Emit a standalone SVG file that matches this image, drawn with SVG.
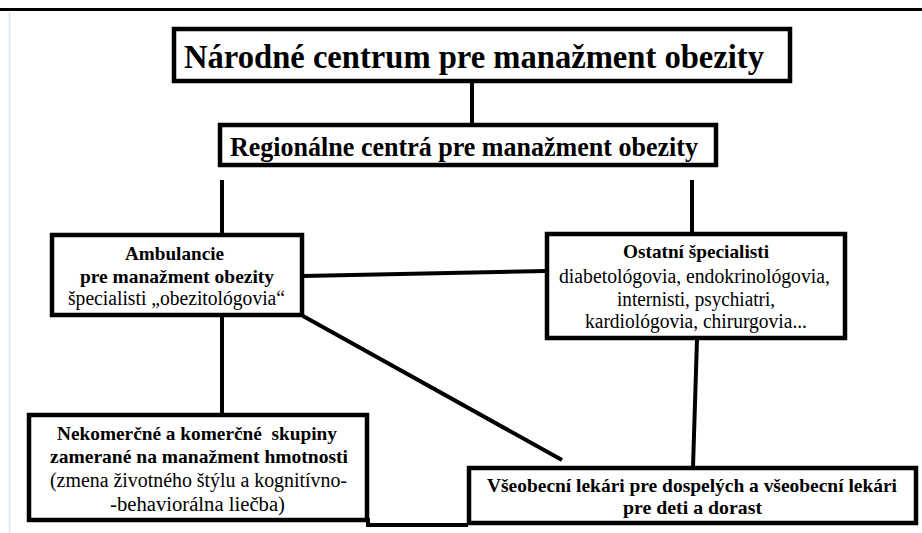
<svg xmlns="http://www.w3.org/2000/svg" width="922" height="533" viewBox="0 0 922 533">
<style>
.box{fill:#fff;stroke:#000;stroke-width:4.5}
.t{font-family:"Liberation Serif","Times New Roman",serif;fill:#000}
.b{font-weight:bold}
.s{font-size:19px}
.r{font-size:20px}
.c{stroke:#000;stroke-width:4;fill:none}
</style>
<rect x="0" y="0" width="922" height="533" fill="#fff"/>
<rect x="0" y="8" width="922" height="3" fill="#000"/>
<line x1="9.5" y1="12" x2="9.5" y2="533" stroke="#d4e6f2" stroke-width="1.5"/>
<g id="connectors">
<line class="c" x1="472" y1="81" x2="472" y2="124"/>
<line class="c" x1="222" y1="180" x2="222" y2="234"/>
<line class="c" x1="692" y1="180" x2="692" y2="233"/>
<line class="c" x1="303" y1="276" x2="546" y2="271"/>
<line class="c" x1="222" y1="316" x2="222" y2="414"/>
<line class="c" x1="303" y1="316" x2="562" y2="460"/>
<line class="c" x1="697" y1="339" x2="693" y2="467"/>
<polyline class="c" points="368,518 368,525 468,525"/>
</g>
<g id="national">
<rect class="box" x="174" y="29" width="616" height="52"/>
<text class="t b" x="184" y="68" font-size="34" textLength="580" lengthAdjust="spacingAndGlyphs">Národné centrum pre manažment obezity</text>
</g>
<g id="regional">
<rect class="box" x="220" y="125" width="496" height="40"/>
<text class="t b" x="230" y="156" font-size="27" textLength="468" lengthAdjust="spacingAndGlyphs">Regionálne centrá pre manažment obezity</text>
</g>
<g id="ambulancie">
<rect class="box" x="52" y="235" width="250" height="80"/>
<text class="t b s" x="125" y="260" textLength="99" lengthAdjust="spacingAndGlyphs">Ambulancie</text>
<text class="t b s" x="80" y="283" textLength="194" lengthAdjust="spacingAndGlyphs">pre manažment obezity</text>
<text class="t r" x="68" y="305" textLength="217" lengthAdjust="spacingAndGlyphs">špecialisti „obezitológovia“</text>
</g>
<g id="ostatni">
<rect class="box" x="547" y="234" width="298" height="104"/>
<text class="t b s" x="623" y="258" textLength="146" lengthAdjust="spacingAndGlyphs">Ostatní špecialisti</text>
<text class="t r" x="559" y="283" textLength="271" lengthAdjust="spacingAndGlyphs">diabetológovia, endokrinológovia,</text>
<text class="t r" x="617" y="306" textLength="158" lengthAdjust="spacingAndGlyphs">internisti, psychiatri,</text>
<text class="t r" x="585" y="328" textLength="222" lengthAdjust="spacingAndGlyphs">kardiológovia, chirurgovia...</text>
</g>
<g id="nekomercne">
<rect class="box" x="29" y="415" width="338" height="105"/>
<text class="t b s" x="57" y="440" textLength="280" lengthAdjust="spacingAndGlyphs" xml:space="preserve">Nekomerčné a komerčné  skupiny</text>
<text class="t b s" x="50" y="463" textLength="298" lengthAdjust="spacingAndGlyphs">zamerané na manažment hmotnosti</text>
<text class="t r" x="50" y="487" textLength="297" lengthAdjust="spacingAndGlyphs">(zmena životného štýlu a kognitívno-</text>
<text class="t r" x="110" y="511" textLength="175" lengthAdjust="spacingAndGlyphs">-behaviorálna liečba)</text>
</g>
<g id="vseobecni">
<rect class="box" x="469" y="468" width="447" height="55"/>
<text class="t b s" x="487" y="492" textLength="410" lengthAdjust="spacingAndGlyphs">Všeobecní lekári pre dospelých a všeobecní lekári</text>
<text class="t b s" x="623" y="514" textLength="139" lengthAdjust="spacingAndGlyphs">pre deti a dorast</text>
</g>
</svg>
